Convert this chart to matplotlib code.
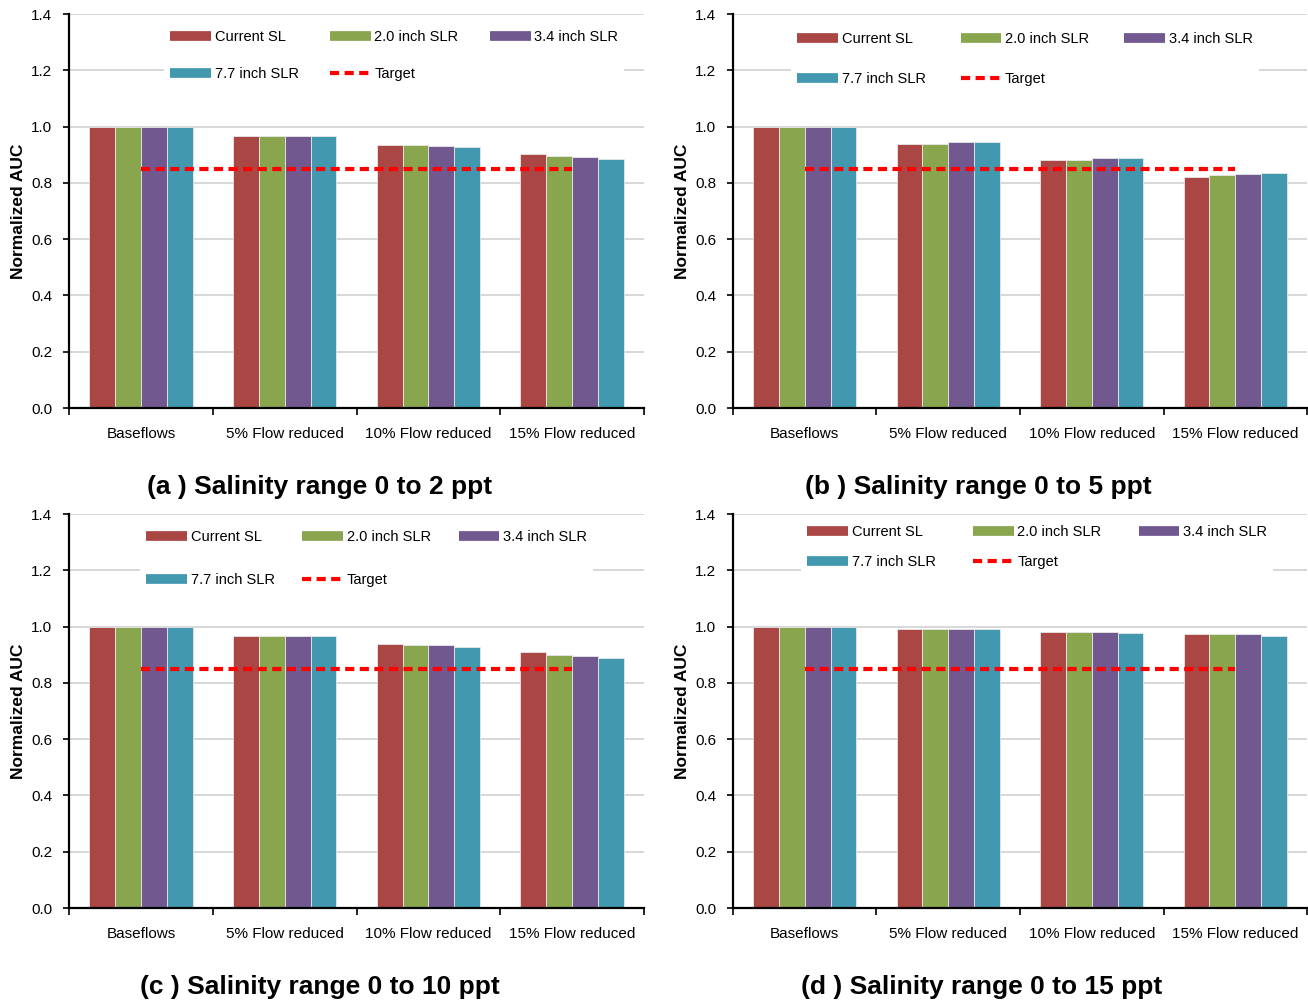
import matplotlib
matplotlib.use('Agg')
import matplotlib.pyplot as plt
import numpy as np
from matplotlib.lines import Line2D

plt.rcParams['font.family'] = ['Liberation Sans', 'DejaVu Sans']

categories = ['Baseflows', '5% Flow reduced', '10% Flow reduced', '15% Flow reduced']
series_names = ['Current SL', '2.0 inch SLR', '3.4 inch SLR', '7.7 inch SLR']
colors = ['#AA4643', '#89A54E', '#71588F', '#4198AF']
target = 0.85

# values per panel, one list per series
a_current = [1.0, 0.968, 0.935, 0.901]
a_slr20 = [1.0, 0.968, 0.935, 0.896]
a_slr34 = [1.0, 0.965, 0.931, 0.892]
a_slr77 = [1.0, 0.965, 0.926, 0.884]

b_current = [1.0, 0.939, 0.882, 0.822]
b_slr20 = [1.0, 0.939, 0.882, 0.827]
b_slr34 = [1.0, 0.944, 0.887, 0.832]
b_slr77 = [1.0, 0.944, 0.887, 0.836]

c_current = [1.0, 0.968, 0.939, 0.908]
c_slr20 = [1.0, 0.968, 0.934, 0.899]
c_slr34 = [1.0, 0.968, 0.934, 0.896]
c_slr77 = [1.0, 0.965, 0.927, 0.887]

d_current = [1.0, 0.991, 0.981, 0.973]
d_slr20 = [1.0, 0.991, 0.981, 0.973]
d_slr34 = [1.0, 0.991, 0.981, 0.973]
d_slr77 = [1.0, 0.991, 0.976, 0.968]

titles = ['(a ) Salinity range 0 to 2 ppt', '(b ) Salinity range 0 to 5 ppt',
          '(c ) Salinity range 0 to 10 ppt', '(d ) Salinity range 0 to 15 ppt']

panels = [
    [a_current, a_slr20, a_slr34, a_slr77],
    [b_current, b_slr20, b_slr34, b_slr77],
    [c_current, c_slr20, c_slr34, c_slr77],
    [d_current, d_slr20, d_slr34, d_slr77],
]

W, H = 1308, 1002
fig = plt.figure(figsize=(W / 100, H / 100), dpi=100)

# axes boxes in pixels: left, top, right, bottom
boxes = [(69, 14, 644, 408), (733, 14, 1307, 408),
         (69, 514, 644, 908), (733, 514, 1307, 908)]
title_pos = [(320, 487), (978, 487), (320, 987), (982, 987)]
# legend anchor (pixel of upper-left corner), row spacing, column spacing
legend_pos = [(157, 17, 1.6, 2.15), (784, 19, 1.8, 2.4),
              (133, 517, 2.0, 1.9), (794, 512, 1.1, 2.55)]

width = 0.18
x = np.arange(len(categories))

for i, vals in enumerate(panels):
    l, t, r, b = boxes[i]
    ax = fig.add_axes([l / W, 1 - b / H, (r - l) / W, (b - t) / H])
    handles = []
    for j, v in enumerate(vals):
        ax.bar(x + (j - 1.5) * width, v, width, color=colors[j],
               edgecolor='#E8E8E8', linewidth=0.6, zorder=2)
        handles.append(Line2D([], [], color=colors[j], lw=7, solid_capstyle='butt'))
    ax.plot([0, 3], [target, target], color='#FF0000', lw=3, ls=(0, (2.2, 1.3)), zorder=3)
    handles.append(Line2D([], [], color='#FF0000', lw=3, ls=(0, (2.2, 1.3))))

    ax.set_xlim(-0.5, 3.5)
    ax.set_ylim(0, 1.4)
    ax.set_yticks(np.arange(0, 1.41, 0.2))
    ax.set_yticklabels(['%.1f' % v for v in np.arange(0, 1.41, 0.2)])
    ax.yaxis.grid(True, color='#D4D4D4', lw=1.3, zorder=0)
    ax.set_axisbelow(True)
    ax.set_xticks(x)
    ax.set_xticklabels(categories)
    ax.set_xticks(np.arange(-0.5, 4, 1), minor=True)
    ax.tick_params(axis='x', which='major', length=0, pad=14, labelsize=11)
    ax.tick_params(axis='x', which='minor', length=5, width=1.2, direction='out')
    ax.tick_params(axis='y', length=4, width=1.2, direction='out', pad=8, labelsize=11)
    for s in ['top', 'right']:
        ax.spines[s].set_visible(False)
    for s in ['left', 'bottom']:
        ax.spines[s].set_linewidth(1.6)
    ax.set_ylabel('Normalized AUC', fontsize=12.5, fontweight='bold', labelpad=4)

    labels = series_names + ['Target']
    order = [0, 3, 1, 4, 2]
    lx, ly, lsp, csp = legend_pos[i]
    leg = ax.legend([handles[k] for k in order], [labels[k] for k in order],
                    ncol=3, loc='upper left', bbox_to_anchor=(lx / W, 1 - ly / H),
                    bbox_transform=fig.transFigure, frameon=True, fontsize=10.5,
                    handlelength=2.8, handletextpad=0.25, columnspacing=csp,
                    labelspacing=lsp, borderpad=0.4)
    leg.get_frame().set_facecolor('white')
    leg.get_frame().set_edgecolor('none')
    leg.get_frame().set_alpha(1)
    leg.set_zorder(5)

    tx, ty = title_pos[i]
    fig.text(tx / W, 1 - ty / H, titles[i], ha='center', va='center',
             fontsize=19, fontweight='bold')

fig.savefig('out.png', dpi=100)
